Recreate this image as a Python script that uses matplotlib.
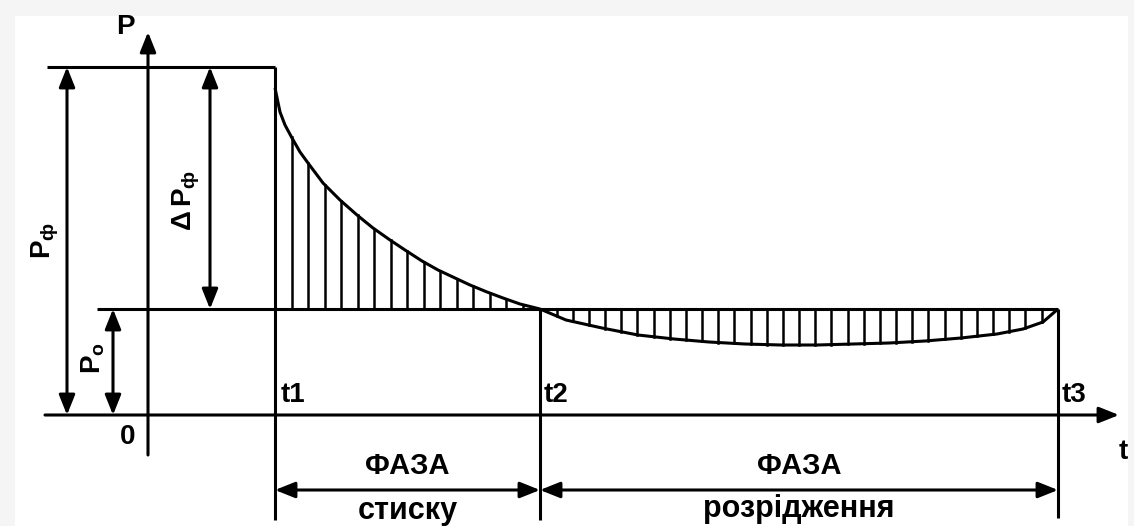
import numpy as np
import matplotlib.pyplot as plt
from matplotlib.patches import Rectangle, FancyArrowPatch

plt.rcParams['font.family'] = ['Liberation Sans', 'DejaVu Sans']
plt.rcParams['font.weight'] = 'bold'
plt.rcParams['mathtext.fontset'] = 'custom'
plt.rcParams['mathtext.rm'] = 'Liberation Sans:bold'
plt.rcParams['mathtext.it'] = 'Liberation Sans:bold'

# characteristic times and pressures (arbitrary units)
T1, T2, T3 = 127, 392, 910
P0 = 106          # atmospheric pressure
PF = 348          # pressure at the shock front

# compression phase: pressure falls from the front value to P0
t_pos = [127, 132, 137, 144, 152, 160, 175, 192, 209, 225, 242, 257, 274,
         290, 307, 322, 339, 355, 372, 392]
p_pos = [327, 303, 290, 277, 263, 252, 232, 215, 200, 187, 175, 165, 154,
         145, 137, 130, 123, 117, 111, 106]

# rarefaction phase: pressure below P0
t_neg = [392, 418, 454, 490, 526, 561, 597, 633, 669, 705, 741, 777, 813,
         849, 875, 895, 910]
p_neg = [106, 95, 87, 80, 76, 73, 71, 70, 70, 71, 72, 74, 77, 81, 86, 93, 106]

LW = 2.2
HATCH_LW = 1.8
FS = 21

fig = plt.figure(figsize=(11.34, 5.26), dpi=100, facecolor='#f5f5f5')
ax = fig.add_axes([0, 0, 1, 1])
ax.set_xlim(-148, 986)
ax.set_ylim(-111, 415)
ax.axis('off')
ax.add_patch(Rectangle((15 / 1134, 0), 1113 / 1134, 510 / 526,
                       transform=fig.transFigure, facecolor='white',
                       edgecolor='none', zorder=-10, clip_on=False))

k = dict(color='black', lw=LW, solid_capstyle='butt')


def arrow(p1, p2, style='-|>'):
    style += ',head_length=0.55,head_width=0.22'
    ax.add_patch(FancyArrowPatch(p1, p2, arrowstyle=style, mutation_scale=22,
                                 color='black', lw=LW, shrinkA=0, shrinkB=0))


# coordinate axes
arrow((-103, 0), (971, 0))
arrow((0, -40), (0, 383))

# reference levels
ax.plot([-101, T1], [PF, PF], **k)
ax.plot([-51, T3], [P0, P0], **k)

# phase boundaries
ax.plot([T1, T1], [PF, -105], **k)
ax.plot([T2, T2], [P0, -105], **k)
ax.plot([T3, T3], [P0, -103], **k)

# pressure curves
ax.plot(t_pos, p_pos, **k)
ax.plot(t_neg, p_neg, **k)

# vertical hatching under the curves
step = 16.5
for t in np.arange(T1 + step, T2 - 6, step):
    ax.plot([t, t], [P0, np.interp(t, t_pos, p_pos)], color='black',
            lw=HATCH_LW)
for t in np.arange(T2 + step, T3 - 4, step * 0.98):
    ax.plot([t, t], [P0, np.interp(t, t_neg, p_neg)], color='black',
            lw=HATCH_LW)

# dimension arrows
arrow((-81, 0), (-81, PF), '<|-|>')
arrow((62, P0), (62, PF), '<|-|>')
arrow((-35, 0), (-35, P0), '<|-|>')
arrow((T1, -75), (T2, -75), '<|-|>')
arrow((T2, -75), (T3, -75), '<|-|>')

# labels
ax.text(-23, 388, 'P', fontsize=20, ha='center', va='center')
ax.text(-20, -22, '0', fontsize=20, ha='center', va='center')
ax.text(975, -37, 't', fontsize=20, ha='center', va='center')
ax.text(T1 + 6, 20, 't1', fontsize=20, ha='left', va='center')
ax.text(T2 + 4, 20, 't2', fontsize=20, ha='left', va='center')
ax.text(T3 + 4, 20, 't3', fontsize=20, ha='left', va='center')

ax.text(-103, 175, r'$\mathrm{P}_{\mathrm{ф}}$', fontsize=20, rotation=90,
        ha='center', va='center')
ax.text(38, 215, r'$\mathrm{\Delta\,P}_{\mathrm{ф}}$', fontsize=20,
        rotation=90, ha='center', va='center')
ax.text(-55, 57, r'$\mathrm{P}_{\mathrm{o}}$', fontsize=20, rotation=90,
        ha='center', va='center')

ax.text((T1 + T2) / 2, -51, 'ФАЗА', fontsize=FS, ha='center', va='center')
ax.text((T1 + T2) / 2, -96, 'стиску', fontsize=FS + 1, ha='center',
        va='center')
ax.text((T2 + T3) / 2, -51, 'ФАЗА', fontsize=FS, ha='center', va='center')
ax.text((T2 + T3) / 2, -94, 'розрідження', fontsize=FS + 1, ha='center',
        va='center')

fig.savefig('out.png', dpi=100)
